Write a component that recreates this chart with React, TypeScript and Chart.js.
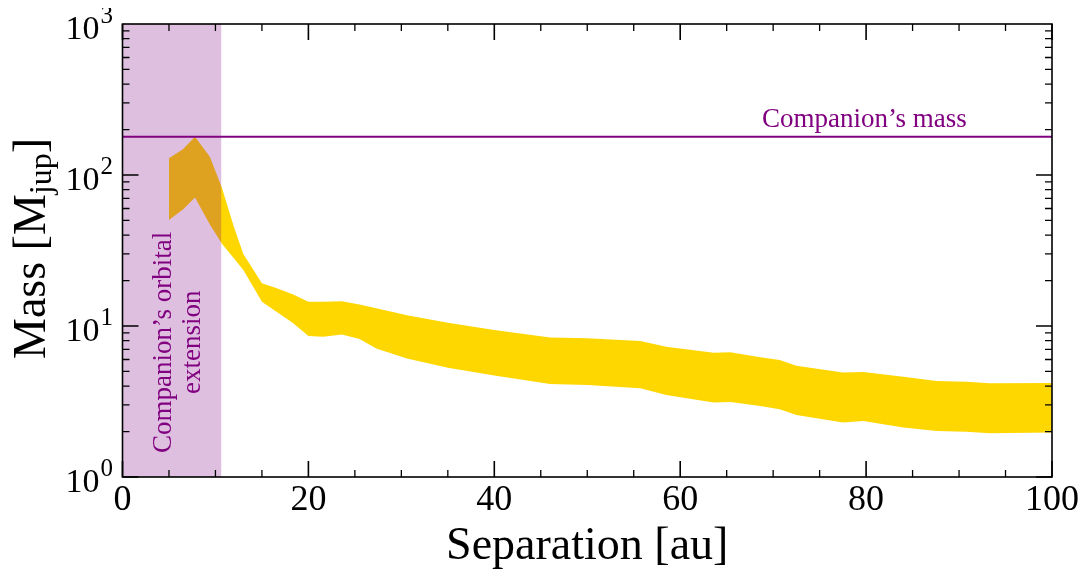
import React, { useEffect, useRef } from 'react';
import { Chart, registerables } from 'chart.js';

Chart.register(...registerables);

// ---- Data ----
const separation = [5, 6.5, 7.8, 9.4, 10.7, 12, 13, 15, 16.6, 18.3, 20, 21.6, 23.6, 25.5, 27.3, 30.6, 35, 40, 46, 50, 55.7, 58.5, 63.6, 65.4, 68.6, 70.7, 72.5, 77.5, 79.7, 84, 87.6, 90.8, 93.3, 100];
const massUpper = [129, 148, 179, 132, 82, 45, 30, 19.2, 17.8, 16.2, 14.5, 14.5, 14.6, 13.9, 13.1, 11.8, 10.5, 9.4, 8.4, 8.3, 7.96, 7.3, 6.66, 6.7, 6.2, 5.96, 5.46, 4.93, 4.96, 4.62, 4.32, 4.28, 4.17, 4.2];
const massLower = [50.4, 59, 71, 47, 35, 28, 23.5, 14.5, 12.4, 10.5, 8.6, 8.5, 8.8, 8.2, 7.1, 6.1, 5.3, 4.7, 4.13, 4.07, 3.87, 3.49, 3.12, 3.14, 2.95, 2.81, 2.57, 2.3, 2.35, 2.13, 2.02, 1.99, 1.95, 1.97];
const companionMass = 179;
const orbitalExtension = [0, 10.65];
const xTickValues = [0, 20, 40, 60, 80, 100];
const yDecadeExponents = [0, 1, 2, 3];

const PURPLE = '#800080';
const GOLD = '#FFD700';
const SERIF = '"Liberation Serif", "DejaVu Serif", serif';

const framePlugin = {
  id: 'frameTicks',
  afterDatasetsDraw(chart: any) {
    const { ctx, chartArea } = chart;
    const { left, right, top, bottom } = chartArea;
    const xs = chart.scales.x;
    const ys = chart.scales.y;
    ctx.save();
    ctx.strokeStyle = '#000';
    // x ticks (inward, bottom and top)
    for (let v = 0; v <= 100; v += 5) {
      const major = v % 20 === 0;
      const len = major ? 16 : 7;
      ctx.lineWidth = major ? 1.6 : 1.3;
      const px = xs.getPixelForValue(v);
      ctx.beginPath();
      ctx.moveTo(px, bottom);
      ctx.lineTo(px, bottom - len);
      ctx.moveTo(px, top);
      ctx.lineTo(px, top + len);
      ctx.stroke();
    }
    // y ticks (inward, left and right)
    for (let e = 0; e < 3; e++) {
      for (let m = 1; m <= 9; m++) {
        const v = m * Math.pow(10, e);
        const major = m === 1;
        const len = major ? 16 : 7;
        ctx.lineWidth = major ? 1.6 : 1.3;
        const py = ys.getPixelForValue(v);
        ctx.beginPath();
        ctx.moveTo(left, py);
        ctx.lineTo(left + len, py);
        ctx.moveTo(right, py);
        ctx.lineTo(right - len, py);
        ctx.stroke();
      }
    }
    // frame
    ctx.lineWidth = 1.6;
    ctx.strokeRect(left, top, right - left, bottom - top);

    // annotations
    ctx.fillStyle = PURPLE;
    ctx.font = `27px ${SERIF}`;
    ctx.textAlign = 'left';
    ctx.textBaseline = 'alphabetic';
    ctx.fillText('Companion\u2019s mass', xs.getPixelForValue(68.8), ys.getPixelForValue(companionMass) - 10);

    const cy = ys.getPixelForValue(7.8);
    const lines = ['Companion\u2019s orbital', 'extension'];
    const lineX = [5.2, 8.35];
    ctx.textAlign = 'center';
    lines.forEach((t, i) => {
      ctx.save();
      ctx.translate(xs.getPixelForValue(lineX[i]), cy);
      ctx.rotate(-Math.PI / 2);
      ctx.fillText(t, 0, 0);
      ctx.restore();
    });
    ctx.restore();
  },
  afterDraw(chart: any) {
    const { ctx, chartArea } = chart;
    const ys = chart.scales.y;
    ctx.save();
    ctx.fillStyle = '#000';
    ctx.textBaseline = 'alphabetic';
    ctx.textAlign = 'left';
    const rightX = chartArea.left - 9.5;
    yDecadeExponents.forEach((e) => {
      const py = ys.getPixelForValue(Math.pow(10, e));
      ctx.font = `25px ${SERIF}`;
      const expW = ctx.measureText(String(e)).width;
      ctx.fillText(String(e), rightX - expW, py - 1);
      ctx.font = `34px ${SERIF}`;
      const tenW = ctx.measureText('10').width;
      ctx.fillText('10', rightX - expW - 1 - tenW, py + 15);
    });

    // y-axis title with subscript
    const cx = 37;
    const cyT = (chartArea.top + chartArea.bottom) / 2 - 2;
    const mainFont = `46px ${SERIF}`;
    const subFont = `32px ${SERIF}`;
    ctx.font = mainFont;
    const w1 = ctx.measureText('Mass [M').width;
    const w3 = ctx.measureText(']').width;
    ctx.font = subFont;
    const w2 = ctx.measureText('jup').width;
    const total = w1 + w2 + w3;
    ctx.translate(cx, cyT);
    ctx.rotate(-Math.PI / 2);
    let x0 = -total / 2;
    ctx.font = mainFont;
    ctx.fillText('Mass [M', x0, 0);
    x0 += w1;
    ctx.font = subFont;
    ctx.fillText('jup', x0, 6);
    x0 += w2;
    ctx.font = mainFont;
    ctx.fillText(']', x0, 0);
    ctx.restore();
  },
};

export default function App() {
  const canvasRef = useRef<HTMLCanvasElement | null>(null);

  useEffect(() => {
    if (!canvasRef.current) return;
    const chart = new Chart(canvasRef.current, {
      type: 'line',
      data: {
        datasets: [
          {
            label: 'Companion\u2019s mass',
            data: [
              { x: 0, y: companionMass },
              { x: 100, y: companionMass },
            ],
            borderColor: PURPLE,
            borderWidth: 2,
            pointRadius: 0,
            fill: false,
          },
          {
            label: 'Companion\u2019s orbital extension',
            data: orbitalExtension.map((x) => ({ x, y: 1000 })),
            borderColor: 'transparent',
            borderWidth: 0,
            pointRadius: 0,
            backgroundColor: 'rgba(128,0,128,0.25)',
            fill: 'start',
          },
          {
            label: 'Upper mass limit',
            data: separation.map((x, i) => ({ x, y: massUpper[i] })),
            borderColor: 'transparent',
            borderWidth: 0,
            pointRadius: 0,
            backgroundColor: GOLD,
            fill: '+1',
          },
          {
            label: 'Lower mass limit',
            data: separation.map((x, i) => ({ x, y: massLower[i] })),
            borderColor: 'transparent',
            borderWidth: 0,
            pointRadius: 0,
            fill: false,
          },
        ],
      },
      options: {
        animation: false,
        responsive: true,
        maintainAspectRatio: false,
        layout: { padding: { top: 16, right: 30, left: 0, bottom: 0 } },
        plugins: {
          legend: { display: false },
          tooltip: { enabled: false },
        },
        elements: { line: { tension: 0 } },
        scales: {
          x: {
            type: 'linear',
            min: 0,
            max: 100,
            grid: { display: false, drawTicks: false },
            border: { display: false },
            afterBuildTicks: (s: any) => {
              s.ticks = xTickValues.map((v) => ({ value: v }));
            },
            ticks: {
              font: { family: SERIF, size: 36 },
              color: '#000',
              padding: 2,
              maxRotation: 0,
              autoSkip: false,
            },
            title: {
              display: true,
              text: 'Separation [au]',
              font: { family: SERIF, size: 46 },
              color: '#000',
              padding: 0,
            },
            afterFit: (s: any) => {
              s.height = 98;
            },
          },
          y: {
            type: 'logarithmic',
            min: 1,
            max: 1000,
            grid: { display: false, drawTicks: false },
            border: { display: false },
            ticks: { display: false },
            afterFit: (s: any) => {
              s.width = 114.5;
            },
          },
        },
      },
      plugins: [framePlugin],
    });
    return () => chart.destroy();
  }, []);

  return (
    <div style={{ width: 1074, height: 567, position: 'relative' }}>
      <canvas ref={canvasRef} />
    </div>
  );
}
